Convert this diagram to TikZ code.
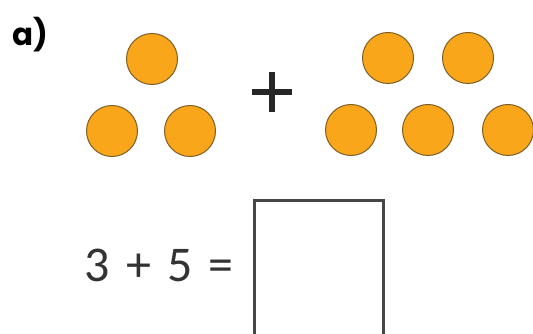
\documentclass[tikz,border=0pt]{standalone}
\usepackage{fontspec}
\setmainfont{Carlito}
\newfontfamily\labelfont{Poppins}
\definecolor{dotfill}{RGB}{250,166,26}
\definecolor{dotline}{RGB}{125,95,40}
\definecolor{boxline}{RGB}{70,70,70}
\tikzset{
  dot/.style={circle, fill=dotfill, draw=dotline, line width=1pt, minimum size=51pt, inner sep=0pt},
  answerbox/.style={draw=boxline, line width=2.5pt},
  eqchar/.style={anchor=base, inner sep=0pt, text=black!80, font=\fontsize{50}{50}\selectfont},
}
\begin{document}
\begin{tikzpicture}[x=1pt,y=1pt]
\useasboundingbox (0,0) rectangle (533,-334);
\clip (0,0) rectangle (533,-334);
\fill[white] (0,0) rectangle (533,-334);
\node[anchor=base west, inner sep=0pt, font=\labelfont\bfseries\fontsize{31}{31}\selectfont] (lbl) at (12,-46) {a)};
% left group
\node[dot] (l1) at (152,-59) {};
\node[dot] (l2) at (112,-131) {};
\node[dot] (l3) at (190,-131) {};
% plus
\node (plus) at (272,-92) {};
\fill[black!85] (269,-72) rectangle (275,-112);
\fill[black!85] (252,-89) rectangle (292,-95);
% right group
\node[dot] (r1) at (388,-58) {};
\node[dot] (r2) at (468,-58) {};
\node[dot] (r3) at (351,-130) {};
\node[dot] (r4) at (428,-130) {};
\node[dot] (r5) at (508,-130) {};
% equation
\node[eqchar] (e1) at (97,-281) {3};
\node[eqchar] (e2) at (138.5,-281) {+};
\node[eqchar] (e3) at (180,-281) {5};
\node[eqchar] (e4) at (220.5,-281) {=};
\node[answerbox, anchor=north west, minimum width=129pt, minimum height=150pt, inner sep=0pt] (ans) at (253,-199) {};
\end{tikzpicture}
\end{document}
